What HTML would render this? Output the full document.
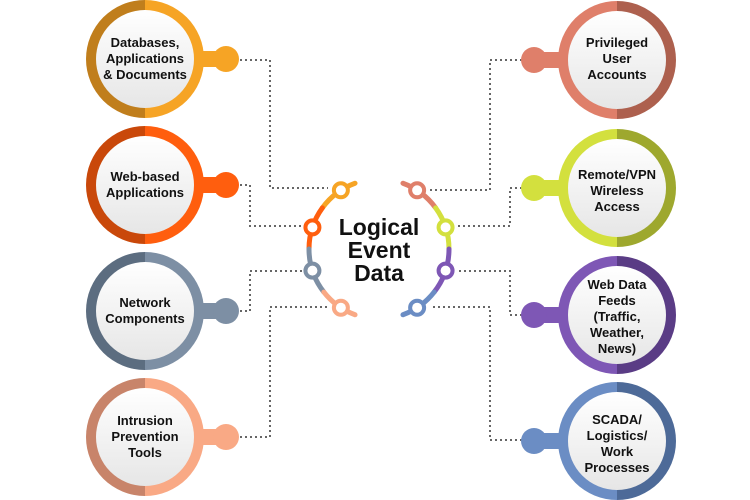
<!DOCTYPE html>
<html><head><meta charset="utf-8"><style>
body{margin:0;background:#fff;width:750px;height:500px;overflow:hidden}
svg{display:block}
text{font-family:"Liberation Sans",sans-serif;font-weight:bold;fill:#111}
</style></head><body>
<svg id="s" width="750" height="500" viewBox="0 0 750 500">
<defs>
<linearGradient id="gw" x1="0" y1="0" x2="0" y2="1"><stop offset="0" stop-color="#ffffff"/><stop offset="1" stop-color="#e6e6e6"/></linearGradient>
</defs>
<g fill="none" stroke="#666" stroke-width="2" stroke-dasharray="2 3">
<polyline points="240,60 270,60 270,188 328,188"/>
<polyline points="240,185 250,185 250,226 302,226"/>
<polyline points="240,311 250,311 250,271 302,271"/>
<polyline points="240,437 270,437 270,307 328,307"/>
<polyline points="522,60 490,60 490,190 430,190"/>
<polyline points="522,188 510,188 510,226 457,226"/>
<polyline points="522,315 510,315 510,271 457,271"/>
<polyline points="522,440 490,440 490,307 430,307"/>
</g>
<g id="nodes"></g>
<g id="arcs"></g>
<text x="379" y="235" font-size="23" text-anchor="middle">Logical</text>
<text x="379" y="258" font-size="23" text-anchor="middle">Event</text>
<text x="379" y="281" font-size="23" text-anchor="middle">Data</text>
<g font-size="13" text-anchor="middle">
<text x="145" y="47">Databases,</text><text x="145" y="63">Applications</text><text x="145" y="79">&amp; Documents</text>
<text x="145" y="181">Web-based</text><text x="145" y="197">Applications</text>
<text x="145" y="307">Network</text><text x="145" y="323">Components</text>
<text x="145" y="425">Intrusion</text><text x="145" y="441">Prevention</text><text x="145" y="457">Tools</text>
<text x="617" y="47">Privileged</text><text x="617" y="63">User</text><text x="617" y="79">Accounts</text>
<text x="617" y="179">Remote/VPN</text><text x="617" y="195">Wireless</text><text x="617" y="211">Access</text>
<text x="617" y="289">Web Data</text><text x="617" y="305">Feeds</text><text x="617" y="321">(Traffic,</text><text x="617" y="337">Weather,</text><text x="617" y="353">News)</text>
<text x="617" y="424">SCADA/</text><text x="617" y="440">Logistics/</text><text x="617" y="456">Work</text><text x="617" y="472">Processes</text>
</g>
</svg>
<script>
var NS="http://www.w3.org/2000/svg";
function el(p,t,a){var e=document.createElementNS(NS,t);for(var k in a)e.setAttribute(k,a[k]);p.appendChild(e);return e;}
var nodes=document.getElementById('nodes'),defs=document.querySelector('defs');
var L=[[59,'#F6A425','#c07e1c'],[185,'#FF5E0E','#c9480a'],[311,'#7D8FA4','#5c6d80'],[437,'#F9A985','#c8846a']];
var R=[[60,'#DF7F6A','#ad604e'],[188,'#D3E03E','#9ea82e'],[315,'#7E57B5','#5a3c85'],[441,'#6B8DC4','#4d6a98']];
function node(cx,cy,c,d,left,i){
 var g=el(defs,'linearGradient',{id:'g'+i,x1:'0',y1:'0',x2:'1',y2:'0'});
 if(left){el(g,'stop',{offset:'0','stop-color':d});el(g,'stop',{offset:'0.5','stop-color':d});el(g,'stop',{offset:'0.5','stop-color':c});el(g,'stop',{offset:'1','stop-color':c});}
 else{el(g,'stop',{offset:'0','stop-color':c});el(g,'stop',{offset:'0.5','stop-color':c});el(g,'stop',{offset:'0.5','stop-color':d});el(g,'stop',{offset:'1','stop-color':d});}
 var kx=left?cx+81:cx-83;
 el(nodes,'rect',{x:Math.min(cx,kx),y:cy-8,width:Math.abs(kx-cx),height:16,fill:c});
 el(nodes,'circle',{cx:kx,cy:cy,r:13,fill:c});
 el(nodes,'circle',{cx:cx,cy:cy,r:59,fill:'url(#g'+i+')'});
 el(nodes,'circle',{cx:cx,cy:cy,r:49,fill:'url(#gw)'});
}
L.forEach(function(a,i){node(145,a[0],a[1],a[2],true,i);});
R.forEach(function(a,i){node(617,a[0],a[1],a[2],false,i+4);});
var arcs=document.getElementById('arcs'),cx=379,cy=249,r=70;
function pt(a,rr){rr=rr||r;a=a*Math.PI/180;return [cx+rr*Math.cos(a),cy+rr*Math.sin(a)];}
function arc(a1,a2,col){var p=pt(a1),q=pt(a2);var sw=(a2>a1)?1:0;
 el(arcs,'path',{d:'M'+p[0]+','+p[1]+' A'+r+','+r+' 0 0 '+sw+' '+q[0]+','+q[1],fill:'none',stroke:col,'stroke-width':5,'stroke-linecap':'round'});}
var lc=['#F6A425','#FF5E0E','#7D8FA4','#F9A985'],rc=['#DF7F6A','#D3E03E','#7E57B5','#6B8DC4'];
arc(250,216,lc[0]);arc(216,180,lc[1]);arc(180,142,lc[2]);arc(142,110,lc[3]);
arc(290,324,rc[0]);arc(324,360,rc[1]);arc(0,38,rc[2]);arc(38,70,rc[3]);
[[237,lc[0]],[198,lc[1]],[162,lc[2]],[123,lc[3]],[303,rc[0]],[342,rc[1]],[18,rc[2]],[57,rc[3]]].forEach(function(a){var p=pt(a[0]);el(arcs,'circle',{cx:p[0],cy:p[1],r:7,fill:'#fff',stroke:a[1],'stroke-width':4});});
</script>
</body></html>
